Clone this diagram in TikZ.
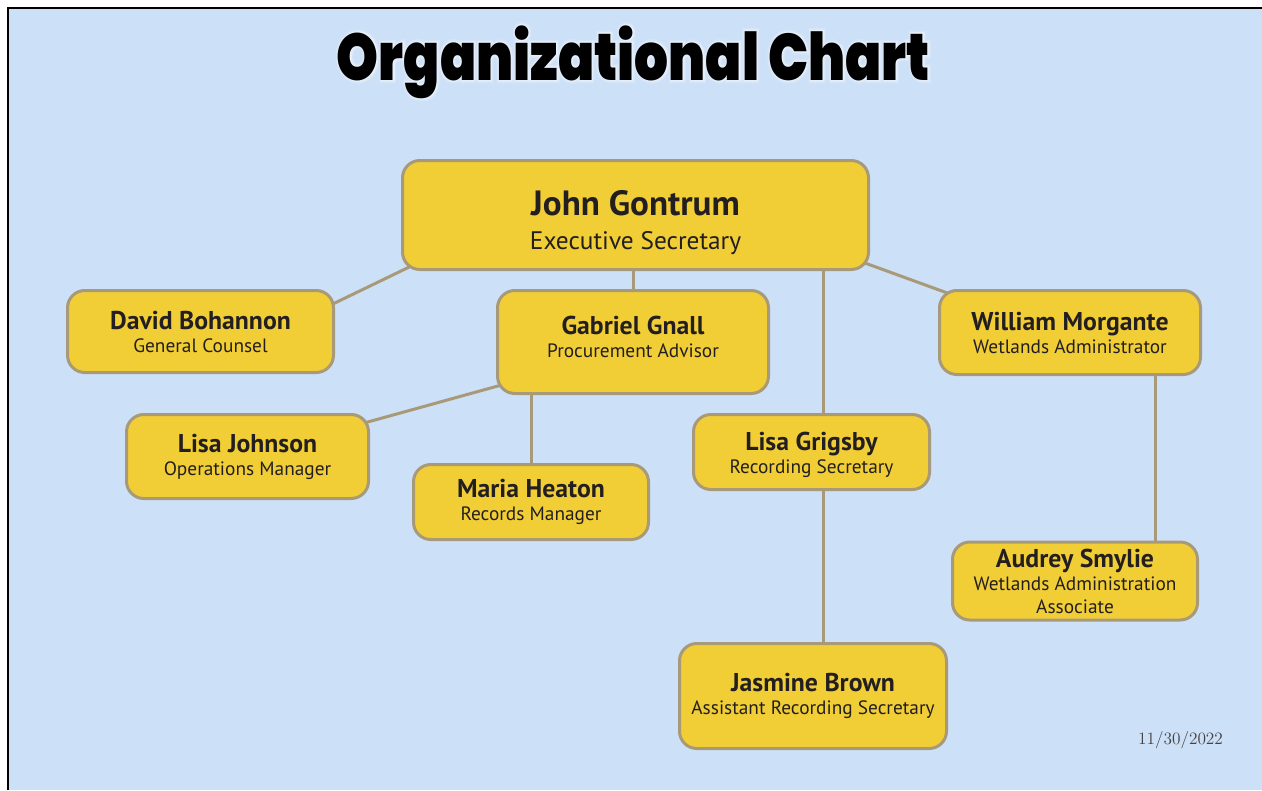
\documentclass[tikz,border=0pt]{standalone}
\usepackage{fontspec}
\usetikzlibrary{calc}
\setmainfont{PT Sans}
\IfFontExistsTF{Poppins Black}
  {\newfontfamily\titlefont{Poppins Black}
   \newfontfamily\halofont{Poppins Black}[FakeBold=5]
   \newfontfamily\wideHalofont{Poppins Black}[FakeBold=10]}
  {\newfontfamily\titlefont{Poppins}[UprightFont=*-Bold]
   \newfontfamily\halofont{Poppins}[UprightFont=*-Bold, FakeBold=5]
   \newfontfamily\wideHalofont{Poppins}[UprightFont=*-Bold, FakeBold=10]}
\newfontfamily\datefont{Latin Modern Roman}

\definecolor{pagebg}{HTML}{CCE0F7}
\definecolor{boxfill}{HTML}{F2CE36}
\definecolor{boxline}{HTML}{A89A78}
\definecolor{ink}{HTML}{231F20}

\newcommand{\charttitle}[1]{\resizebox{444.75pt}{41pt}{#1Organizational Chart}}

\pgfdeclarelayer{backdrop}
\pgfdeclarelayer{background}
\pgfsetlayers{backdrop,background,main}

\tikzset{
  box/.style={draw=boxline, line width=2.25pt, fill=boxfill, rounded corners=13pt,
    inner sep=0pt, align=center, text=ink, font=\fontsize{14.5}{17.25}\selectfont},
  link/.style={draw=boxline, line width=2.25pt},
}
\newcommand{\who}[1]{{\fontsize{19.3}{17.25}\selectfont\bfseries #1}}

\begin{document}
\begin{tikzpicture}[x=0.75pt, y=-0.75pt]
\useasboundingbox (0,0) rectangle (1262,790);
\begin{pgfonlayer}{backdrop}
  \fill[pagebg] (8,8) rectangle (1262,790);
  \draw[black, line width=1.5pt] (8,790) -- (8,8) -- (1262,8);
\end{pgfonlayer}

% title with a soft white halo
\node[anchor=base, text=white, opacity=0.18] (halo-wide) at (633.5,80) {\charttitle{\wideHalofont}};
\node[anchor=base, text=white, opacity=0.35] (halo) at (633.5,80) {\charttitle{\halofont}};
\node[anchor=base, text=black] (title) at (633.5,80) {\charttitle{\titlefont}};

% people
\node[box, minimum width=349.5pt, minimum height=81.75pt,
      font=\fontsize{19}{25}\selectfont] (john) at (635.5,215)
  {\rule{0pt}{30pt}{\fontsize{26.3}{25}\selectfont\bfseries John Gontrum}\\Executive Secretary};
\node[box, minimum width=199.5pt, minimum height=61.5pt] (david) at (200.5,331.5)
  {\who{David Bohannon}\\General Counsel};
\node[box, minimum width=203.25pt, minimum height=77.25pt, text depth=8pt] (gabriel) at (633,342)
  {\who{Gabriel Gnall}\\Procurement Advisor};
\node[box, minimum width=195.75pt, minimum height=63pt] (william) at (1070,332.5)
  {\who{William Morgante}\\Wetlands Administrator};
\node[box, minimum width=181.5pt, minimum height=63pt] (lisaj) at (247.5,456.5)
  {\who{Lisa Johnson}\\Operations Manager};
\node[box, minimum width=176.25pt, minimum height=56.25pt] (maria) at (531,502)
  {\who{Maria Heaton}\\Records Manager};
\node[box, minimum width=177pt, minimum height=56.25pt] (lisag) at (811.5,452)
  {\rule{0pt}{18pt}\who{Lisa Grigsby}\\Recording Secretary};
\node[box, minimum width=183.75pt, minimum height=58.5pt] (audrey) at (1075,581)
  {\who{Audrey Smylie}\\Wetlands Administration\\Associate};
\node[box, minimum width=200.25pt, minimum height=78.75pt] (jasmine) at (813,696)
  {\who{Jasmine Brown}\\Assistant Recording Secretary};

\coordinate (gtop) at ($(lisag.north)+(11.5,0)$);
\coordinate (gbot) at ($(lisag.south)+(11.5,0)$);
\coordinate (atop) at ($(audrey.north)+(80,0)$);

% reporting lines (slanted ones run a little into both boxes, under their fill)
\begin{pgfonlayer}{background}
  \draw[link] ($(john.south west)!-10pt!(david.12)$) -- ($(david.12)!-10pt!(john.south west)$);
  \draw[link] (gabriel.north) -- (gabriel.north |- john.south);
  \draw[link] (gtop) -- (gtop |- john.south);
  \draw[link] ($(john.-12.6)!-10pt!(william.162.6)$) -- ($(william.162.6)!-10pt!(john.-12.6)$);
  \draw[link] ($(gabriel.-162.1)!-10pt!(lisaj.16.8)$) -- ($(lisaj.16.8)!-10pt!(gabriel.-162.1)$);
  \draw[link] (maria.north) -- (maria.north |- gabriel.south);
  \draw[link] (gbot) -- (gbot |- jasmine.north);
  \draw[link] (atop) -- (atop |- william.south);
\end{pgfonlayer}

\node[anchor=base, text=ink!85, font=\datefont\fontsize{13}{13}\selectfont] (date) at (1180.5,744) {11/30/2022};
\end{tikzpicture}
\end{document}
